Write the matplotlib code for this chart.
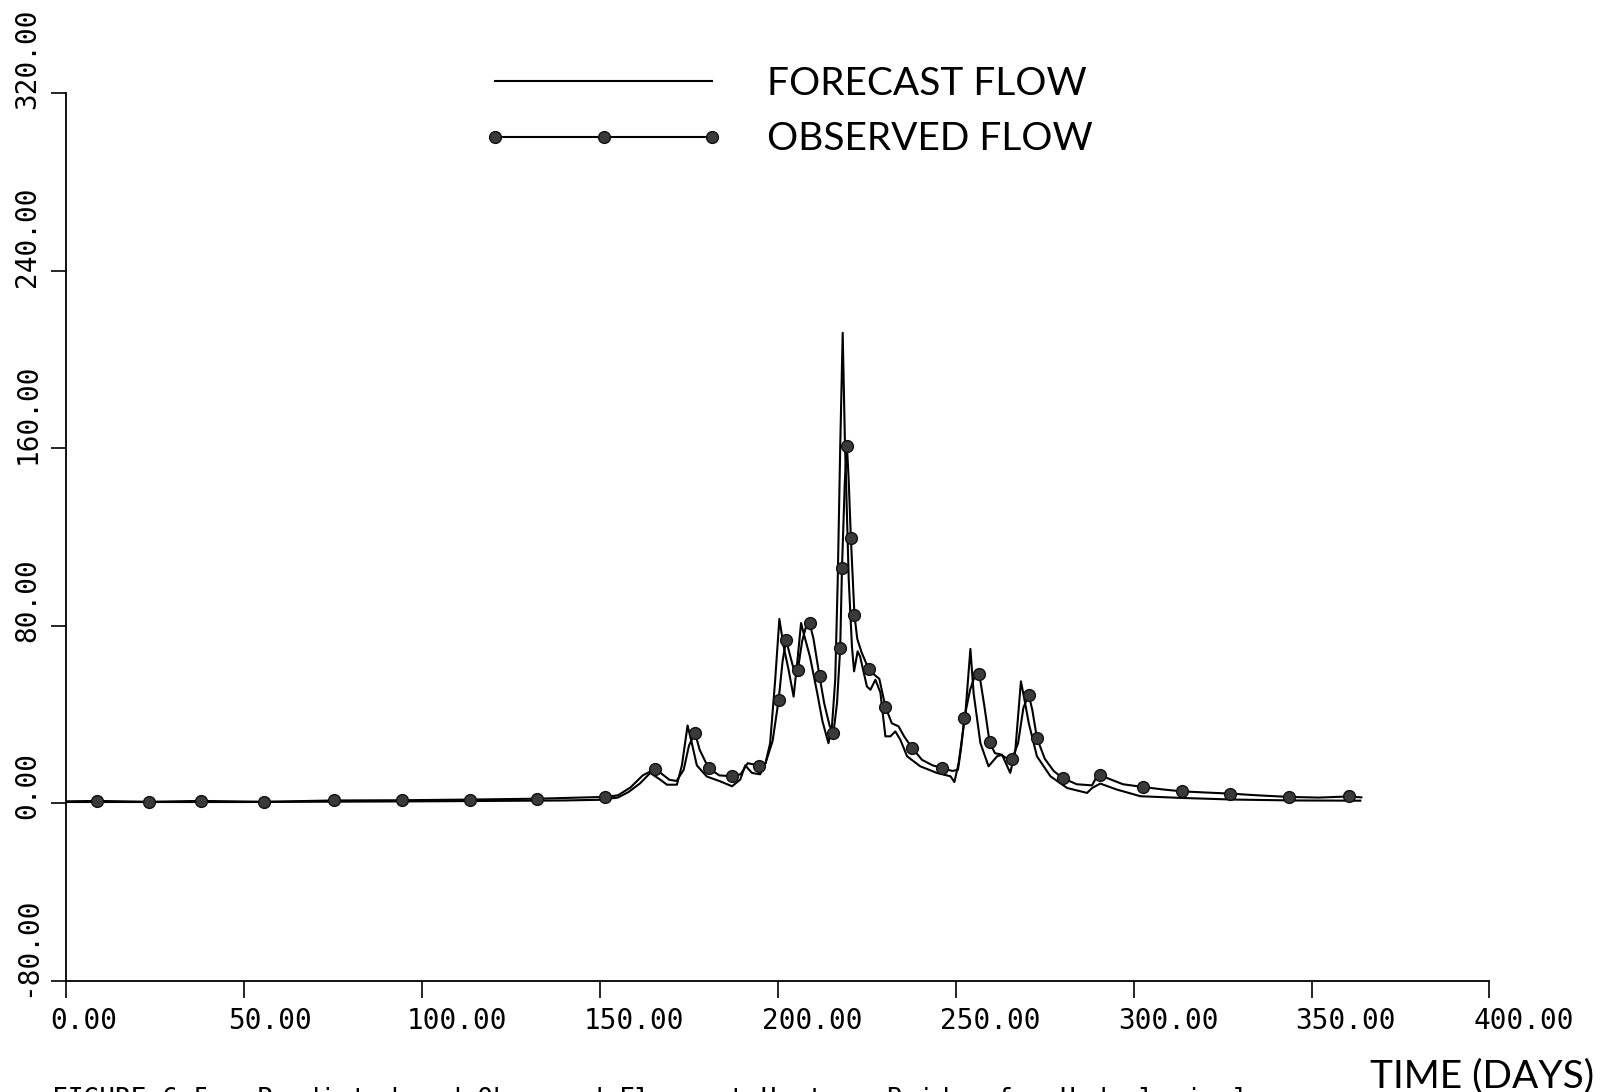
import numpy as np
import matplotlib.pyplot as plt
from matplotlib.transforms import ScaledTranslation

# forecast flow (plain line)
forecast_days = [0, 50, 100, 140, 150, 155, 158, 161.3, 164.1, 166.9, 168.8, 171.6,
                 173, 174.6, 175.8, 177.2, 180, 183.8, 187.1, 189.4, 190.8, 192.7,
                 195, 196.5, 197.8, 199.2, 200.4, 201.6, 203, 204.4, 205.5, 206.5,
                 207.2, 209, 211, 212.5, 214.2, 215.2, 216.1, 216.8, 217.5, 218.2,
                 218.8, 219.9, 220.8, 221.4, 222.4, 223.1, 225, 226, 227.4, 228.8,
                 230.2, 231.6, 233, 234.4, 236.3, 240, 244.7, 248.5, 249.6, 250.8,
                 252.7, 254.1, 255, 256.9, 259.2, 261.6, 263, 265.3, 266.7, 268.3,
                 269.3, 270.5, 272.8, 276.6, 281.3, 286.9, 288.3, 290.6, 295.3,
                 301.9, 314.1, 328.1, 345, 363.7]
forecast_flow = [0.5, 0.5, 0.8, 1.2, 1.5, 2.5, 5, 9, 13.6, 10.6, 8.3, 8.3,
                 17, 35, 27, 17, 12, 9.8, 7.6, 10.6, 17, 13.6,
                 13, 18, 27, 55, 83, 70.6, 60, 48, 64.6, 81.2,
                 76.7, 66, 50, 37, 27, 35, 55.6, 100, 160, 212,
                 165, 100.7, 70.6, 59.4, 68.4, 66.1, 52.6, 51.1, 55.6, 49.8,
                 30.1, 30.1, 32.3, 28.6, 21.1, 16.6, 13.6, 12.1, 9.5, 18.1,
                 40.6, 69.5, 49.6, 27.1, 16.6, 21.1, 21.8, 13.6, 23.3, 54.9,
                 46.6, 36.1, 21.1, 12.1, 6.8, 4.6, 6.8, 8.8, 6.1,
                 3.1, 2.3, 1.6, 1.2, 1.1]

# observed flow (line with plotter symbols, 1 = symbol drawn)
obs_days = [0, 8.6, 23.3, 37.7, 55.5, 75.1, 94.4, 113.4, 132.4, 151.4,
            155, 158.5, 162, 165.5, 167.5, 169.5, 171.5, 173.5, 175, 176.7,
            178, 180.5, 183.5, 187.2, 189.5, 191.5, 193, 194.7, 196.5, 198.5,
            200.2, 201.3, 202.3, 203.5, 204.5, 205.6, 206.8, 207.8, 208.9, 210,
            211.7, 213, 214.5, 215.6, 216.6, 217.5, 218.0, 218.8, 219.4, 219.9,
            220.5, 221.5, 222.3, 223.5, 225.5, 227, 228.5, 230.2, 232, 233.9,
            235.5, 237.7, 240.5, 243.5, 246.1, 249, 250.6, 251.5, 252.4, 254,
            255.5, 256.6, 258, 259.5, 261, 262.5, 264, 265.8, 267.5, 269,
            270.5, 271.5, 272.8, 275, 277.5, 280, 284, 288.3, 289.3, 290.4,
            293, 297, 302.5, 308, 313.6, 320, 327, 335, 343.6, 352,
            360.4, 364]
obs_flow = [0.8, 1.0, 0.6, 1.0, 0.6, 1.2, 1.3, 1.6, 2.0, 2.8,
            3.5, 7, 12.5, 15.4, 13, 10.5, 10, 15, 26, 31.6,
            24, 15.8, 12.5, 12.1, 13, 18, 17.5, 16.6, 18, 28,
            46.6, 63.9, 73.6, 66, 60, 60.1, 73, 79, 81.2, 74,
            57.1, 45, 35, 31.6, 45, 69.9, 105.9, 145, 161, 145,
            119.5, 84.9, 74, 68, 60.4, 58, 56, 43.5, 36, 34.6,
            30, 24.9, 19.5, 17, 15.9, 14.5, 15, 25, 38.4, 51,
            58, 58.3, 44, 27.4, 22.5, 22, 20.5, 19.9, 27, 43,
            48.9, 42, 29.4, 20, 14.5, 11.3, 8.5, 8, 11, 12.8,
            11, 8.5, 7.3, 6.2, 5.3, 4.8, 4.3, 3.5, 2.8, 2.5,
            3.0, 2.6]
obs_symbol = [0, 1, 1, 1, 1, 1, 1, 1, 1, 1,
              0, 0, 0, 1, 0, 0, 0, 0, 0, 1,
              0, 1, 0, 1, 0, 0, 0, 1, 0, 0,
              1, 0, 1, 0, 0, 1, 0, 0, 1, 0,
              1, 0, 0, 1, 0, 1, 1, 0, 1, 0,
              1, 1, 0, 0, 1, 0, 0, 1, 0, 0,
              0, 1, 0, 0, 1, 0, 0, 0, 1, 0,
              0, 1, 0, 1, 0, 0, 0, 1, 0, 0,
              1, 0, 1, 0, 0, 1, 0, 0, 0, 1,
              0, 0, 1, 0, 1, 0, 1, 0, 1, 0,
              1, 0]

x_ticks = np.arange(0, 401, 50)
y_ticks = np.arange(-80, 321, 80)

mono = 'DejaVu Sans Mono'
sans = 'Lato'

fig = plt.figure(figsize=(16.05, 10.92), dpi=100)
ax = fig.add_axes([0.0414, 0.1020, 0.8866, 0.8127])

ax.plot(forecast_days, forecast_flow, color='black', lw=1.5, label='FORECAST FLOW')
ax.plot(obs_days, obs_flow, color='black', lw=1.5, marker='o', ms=8.5,
        mfc='#3a3a3a', mec='#111111', mew=1.0,
        markevery=[bool(s) for s in obs_symbol], label='OBSERVED FLOW')

ax.set_xlim(0, 400)
ax.set_ylim(-80, 320)
ax.set_xticks(x_ticks)
ax.set_yticks(y_ticks)
ax.set_xticklabels([f'{v:.2f}' for v in x_ticks], family=mono, fontsize=20)
ax.set_yticklabels([f'{v:.2f}' for v in y_ticks], family=mono, fontsize=20,
                   rotation=90, va='bottom')
ax.tick_params(axis='x', direction='out', length=12, width=1.2, pad=7)
ax.tick_params(axis='y', direction='out', length=11, width=1.2, pad=7)

# plotter labels start a little left of their tick
for lab in ax.get_xticklabels():
    lab.set_horizontalalignment('left')
    lab.set_transform(lab.get_transform() + ScaledTranslation(-16 / 100, 0, fig.dpi_scale_trans))
for lab in ax.get_yticklabels():
    lab.set_transform(lab.get_transform() + ScaledTranslation(0, -16 / 100, fig.dpi_scale_trans))

for side in ['top', 'right']:
    ax.spines[side].set_visible(False)
for side in ['left', 'bottom']:
    ax.spines[side].set_linewidth(1.3)

leg = ax.legend(loc='upper left', bbox_to_anchor=(483 / 1605, 1 - 66 / 1092),
                bbox_transform=fig.transFigure, frameon=False, numpoints=3,
                prop={'family': sans, 'size': 28}, handlelength=6.2,
                handletextpad=1.1, labelspacing=0.5, borderpad=0, borderaxespad=0)

fig.text(1370 / 1605, 5 / 1092, 'TIME (DAYS)', family=sans, fontsize=28,
         ha='left', va='baseline')

# caption sits mostly below the bottom edge of the scan
fig.text(52 / 1605, 5 / 1092,
         'FIGURE 6.5   Predicted and Observed Flows at Hunters Bridge for Hydrological',
         family=mono, fontsize=18.8, ha='left', va='top')

fig.savefig('out.png', dpi=100)
